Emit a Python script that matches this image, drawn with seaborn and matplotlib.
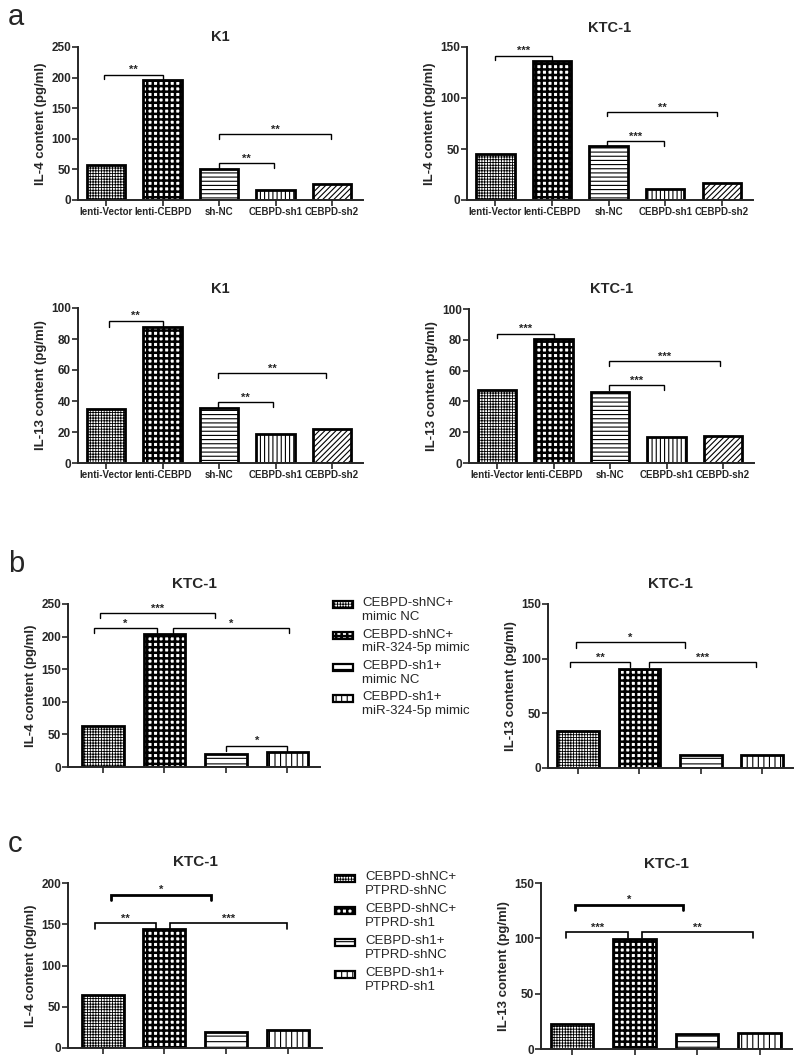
import matplotlib
matplotlib.use('Agg')
import matplotlib.pyplot as plt
from matplotlib.patches import Rectangle
import seaborn as sns

# --- data ---
groups_a = ['lenti-Vector', 'lenti-CEBPD', 'sh-NC', 'CEBPD-sh1', 'CEBPD-sh2']
k1_il4 = [58, 196, 51, 17, 26.5]
ktc_il4 = [45, 136, 52.5, 11, 17]
k1_il13 = [35, 88, 35.7, 18.7, 22]
ktc_il13 = [47.3, 80.8, 46.4, 16.6, 17.7]

groups_b = ['CEBPD-shNC+\nmimic NC', 'CEBPD-shNC+\nmiR-324-5p mimic',
            'CEBPD-sh1+\nmimic NC', 'CEBPD-sh1+\nmiR-324-5p mimic']
b_il4 = [63.5, 204, 20.5, 23]
b_il13 = [34, 91, 12.2, 12.2]

groups_c = ['CEBPD-shNC+\nPTPRD-shNC', 'CEBPD-shNC+\nPTPRD-sh1',
            'CEBPD-sh1+\nPTPRD-shNC', 'CEBPD-sh1+\nPTPRD-sh1']
c_il4 = [64.6, 144.6, 20, 22]
c_il13 = [22.6, 99.4, 13.9, 14.5]

# comparisons: (from, to, bracket height, left leg end, right leg end, label)
sig_k1_il4 = [(-0.04, 1.0, 205, 197, 196, '**'), (2.0, 3.98, 108, 99, 99, '**'),
              (2.0, 2.97, 60, 51, 52, '**')]
sig_ktc_il4 = [(0.0, 1.0, 141.5, 137, 137, '***'), (1.98, 3.92, 86, 82, 82, '**'),
               (1.98, 2.97, 58, 53, 53, '***')]
sig_k1_il13 = [(0.05, 1.0, 91.8, 88, 88, '**'), (1.98, 3.9, 58, 54.6, 54.6, '**'),
               (1.98, 2.96, 39.4, 36, 36, '**')]
sig_ktc_il13 = [(0.0, 1.0, 84, 81, 81, '***'), (1.98, 3.94, 66, 63, 63, '***'),
                (1.98, 2.95, 50.8, 47.5, 47.5, '***')]
sig_b_il4 = [(-0.05, 1.82, 236, 229, 229, '***'), (-0.15, 0.87, 212.6, 205, 205, '*'),
             (1.14, 3.02, 212.6, 205, 205, '*'), (2.0, 3.0, 32.8, 24.6, 24.6, '*')]
sig_b_il13 = [(-0.04, 1.74, 115, 109.6, 109.6, '*'), (-0.125, 0.853, 97, 92.6, 92.6, '**'),
              (1.15, 2.9, 97, 92.6, 92.6, '***')]
sig_c_il4 = [(0.13, 1.76, 186, 180, 180, '*'), (-0.12, 0.87, 151.5, 144, 144, '**'),
             (1.09, 2.98, 151.5, 144, 144, '***')]
sig_c_il13 = [(0.05, 1.78, 130.4, 126, 126, '*'), (-0.1, 0.9, 105.4, 100, 100, '***'),
              (1.11, 2.9, 105.4, 100, 100, '**')]

hatches5 = ['++++++', '+++', '----', '||||', '//////']
hatches4 = ['++++++', '+++', '---', '|||']
hatch_lws = [0.6, 1.8, 0.8, 0.8, 0.8]

sns.set_style('ticks')
plt.rcParams['font.family'] = ['Liberation Sans', 'DejaVu Sans']
plt.rcParams['font.weight'] = 'bold'
plt.rcParams['hatch.linewidth'] = 0.8

W, H = 800, 1060
fig = plt.figure(figsize=(W / 100, H / 100), dpi=100)


def px_axes(left, top, right, bottom):
    return fig.add_axes([left / W, 1 - bottom / H, (right - left) / W, (bottom - top) / H])


def bar_panel(ax, groups, vals, hatches, ytop, ystep, ylabel, title, title_pad,
              sigs, xlim, show_xlabels, title_size=10.5, sig_lws=None):
    sns.barplot(x=groups, y=vals, ax=ax, color='white', saturation=1,
                edgecolor='black', linewidth=2, width=0.68)
    for p, h, hl in zip(ax.patches, hatches, hatch_lws):
        p.set_hatch(h)
        if hasattr(p, 'set_hatch_linewidth'):
            p.set_hatch_linewidth(hl)
    ax.set_ylim(0, ytop)
    ax.set_yticks(range(0, ytop + 1, ystep))
    ax.set_xlim(*xlim)
    sns.despine(ax=ax)
    for s in ['left', 'bottom']:
        ax.spines[s].set_linewidth(1.4)
    ax.tick_params(axis='both', width=1.2, length=4, labelsize=8.5, pad=1)
    ax.tick_params(axis='x', labelsize=7)
    if not show_xlabels:
        ax.tick_params(axis='x', labelbottom=False)
    ax.set_xlabel('')
    ax.set_ylabel(ylabel, fontsize=9.5, fontweight='bold', labelpad=3)
    ax.set_title(title, fontsize=title_size, fontweight='bold', pad=title_pad)
    if sig_lws is None:
        sig_lws = [1.0] * len(sigs)
    for (x1, x2, y, yl, yr, lab), lw in zip(sigs, sig_lws):
        ax.plot([x1, x1, x2, x2], [yl, y, y, yr], color='black', lw=lw,
                solid_joinstyle='miter', clip_on=False)
        ax.annotate(lab, xy=((x1 + x2) / 2, y), xytext=(0, 1), textcoords='offset points',
                    ha='center', va='baseline', fontsize=8, fontweight='bold')


def legend_block(labels, hatches, x_patch, x_text, y_first, step):
    for i, (lab, h) in enumerate(zip(labels, hatches)):
        yc = y_first + i * step
        r = Rectangle((x_patch / W, 1 - (yc + 3.5) / H), 20 / W, 7 / H,
                      transform=fig.transFigure, facecolor='white', edgecolor='black',
                      linewidth=1.6, hatch=h)
        if hasattr(r, 'set_hatch_linewidth'):
            r.set_hatch_linewidth(hatch_lws[i])
        fig.patches.append(r)
        fig.text(x_text / W, 1 - (yc - 7) / H, lab, fontsize=9.5, fontweight='normal',
                 va='top', ha='left', linespacing=1.2)


# panel a
ax = px_axes(78, 47, 363, 200)
bar_panel(ax, groups_a, k1_il4, hatches5, 250, 50, 'IL-4 content (pg/ml)', 'K1', 4,
          sig_k1_il4, (-0.5, 4.55), True)
ax = px_axes(467, 47, 753, 200)
bar_panel(ax, groups_a, ktc_il4, hatches5, 150, 50, 'IL-4 content (pg/ml)', 'KTC-1', 11,
          sig_ktc_il4, (-0.5, 4.55), True)
ax = px_axes(78, 308, 363, 463)
bar_panel(ax, groups_a, k1_il13, hatches5, 100, 20, 'IL-13 content (pg/ml)', 'K1', 11,
          sig_k1_il13, (-0.5, 4.55), True)
ax = px_axes(469, 309, 754, 463)
bar_panel(ax, groups_a, ktc_il13, hatches5, 100, 20, 'IL-13 content (pg/ml)', 'KTC-1', 11.5,
          sig_ktc_il13, (-0.5, 4.55), True)

# panel b
ax = px_axes(68, 604, 320, 767)
bar_panel(ax, groups_b, b_il4, hatches4, 250, 50, 'IL-4 content (pg/ml)', 'KTC-1', 11.5,
          sig_b_il4, (-0.57, 3.53), False, title_size=11)
ax = px_axes(548, 604, 793, 768)
bar_panel(ax, groups_b, b_il13, hatches4, 150, 50, 'IL-13 content (pg/ml)', 'KTC-1', 11.5,
          sig_b_il13, (-0.49, 3.5), False, title_size=11)
legend_block(groups_b, hatches4, 333, 362, 604, 31.5)

# panel c
ax = px_axes(68, 883, 322, 1048)
bar_panel(ax, groups_c, c_il4, hatches4, 200, 50, 'IL-4 content (pg/ml)', 'KTC-1', 12,
          sig_c_il4, (-0.56, 3.55), False, title_size=11, sig_lws=[2.0, 1.2, 1.2])
ax = px_axes(541, 883, 792, 1049)
bar_panel(ax, groups_c, c_il13, hatches4, 150, 50, 'IL-13 content (pg/ml)', 'KTC-1', 11,
          sig_c_il13, (-0.5, 3.52), False, title_size=11, sig_lws=[2.0, 1.2, 1.2])
legend_block(groups_c, hatches4, 335, 365, 878, 32)

for letter, ypx in [('a', 25), ('b', 572), ('c', 852)]:
    fig.text(8 / W, 1 - ypx / H, letter, fontsize=21, fontweight='normal',
             va='baseline', ha='left')

fig.savefig('out.png', dpi=100)
